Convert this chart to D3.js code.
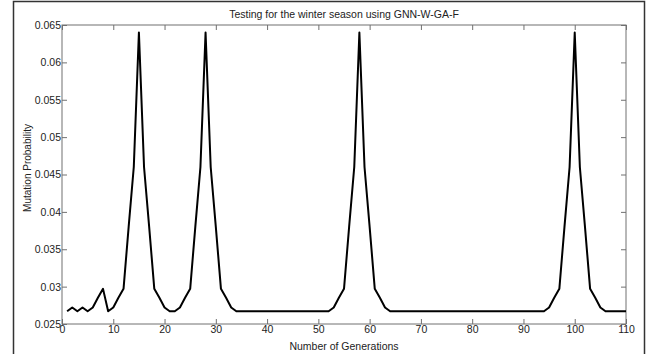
<!DOCTYPE html>
<html><head><meta charset="utf-8">
<script src="https://cdn.jsdelivr.net/npm/d3@7"></script>
<style>html,body{margin:0;padding:0;background:#fff;}svg{display:block;}</style>
</head><body>
<svg id="c" width="648" height="354"></svg>
<script>
const generations = d3.range(1, 111);
const mutation = [
  0.0267, 0.0272, 0.0267, 0.0272, 0.0267, 0.0272, 0.0285, 0.0297,          // 1-8
  0.0267, 0.0272, 0.0285, 0.0297, 0.038, 0.046, 0.064, 0.046, 0.038, 0.0297, 0.0285, 0.0272, 0.0267, // 9-21
  0.0267, 0.0272, 0.0285, 0.0297, 0.038, 0.046, 0.064, 0.046, 0.038, 0.0297, 0.0285, 0.0272, 0.0267, // 22-34
  0.0267, 0.0267, 0.0267, 0.0267, 0.0267, 0.0267, 0.0267, 0.0267, 0.0267, 0.0267, 0.0267, 0.0267, 0.0267, 0.0267, 0.0267, 0.0267, 0.0267, // 35-51
  0.0267, 0.0272, 0.0285, 0.0297, 0.038, 0.046, 0.064, 0.046, 0.038, 0.0297, 0.0285, 0.0272, 0.0267, // 52-64
  0.0267, 0.0267, 0.0267, 0.0267, 0.0267, 0.0267, 0.0267, 0.0267, 0.0267, 0.0267, 0.0267, 0.0267, 0.0267, 0.0267, 0.0267,
  0.0267, 0.0267, 0.0267, 0.0267, 0.0267, 0.0267, 0.0267, 0.0267, 0.0267, 0.0267, 0.0267, 0.0267, 0.0267, 0.0267, // 65-93
  0.0267, 0.0272, 0.0285, 0.0297, 0.038, 0.046, 0.064, 0.046, 0.038, 0.0297, 0.0285, 0.0272, 0.0267, // 94-106
  0.0267, 0.0267, 0.0267, 0.0267 // 107-110
];
const xTicks = [0, 10, 20, 30, 40, 50, 60, 70, 80, 90, 100, 110];
const yTicks = [0.025, 0.03, 0.035, 0.04, 0.045, 0.05, 0.055, 0.06, 0.065];
const yTickLabels = ["0.025", "0.03", "0.035", "0.04", "0.045", "0.05", "0.055", "0.06", "0.065"];
const titleText = "Testing for the winter season using GNN-W-GA-F";
const xLabelText = "Number of Generations";
const yLabelText = "Mutation Probability";

const svg = d3.select("#c");
const L = 62, R = 626, T = 25, B = 324;
const font = "Liberation Sans, Arial, Helvetica, sans-serif";
const x = d3.scaleLinear().domain([0, 110]).range([L, R]);
const y = d3.scaleLinear().domain([0.025, 0.065]).range([B, T]);

// figure border
svg.append("rect").attr("x", 13.5).attr("y", 1.5).attr("width", 631).attr("height", 360)
  .attr("fill", "none").attr("stroke", "#333").attr("stroke-width", 1.5);

const axisColor = "#707070";
function styleAxis(g) {
  g.select(".domain").remove();
  g.selectAll(".tick line").attr("stroke", axisColor);
  g.selectAll(".tick text").attr("fill", "#222").style("font-family", font).style("font-size", "10.5px");
}
svg.append("g").attr("transform", `translate(0,${B})`)
  .call(d3.axisBottom(x).tickValues(xTicks).tickSize(-5).tickPadding(3).tickFormat(d3.format("d")))
  .call(styleAxis)
  .call(g => g.selectAll(".tick text").attr("dy", "0.71em").attr("y", 2));
svg.append("g").attr("transform", `translate(0,${T})`)
  .call(d3.axisTop(x).tickValues(xTicks).tickSize(-5).tickFormat(""))
  .call(styleAxis);
svg.append("g").attr("transform", `translate(${L},0)`)
  .call(d3.axisLeft(y).tickValues(yTicks).tickSize(-5).tickPadding(1).tickFormat((d, i) => yTickLabels[i]))
  .call(styleAxis);
svg.append("g").attr("transform", `translate(${R},0)`)
  .call(d3.axisRight(y).tickValues(yTicks).tickSize(-5).tickFormat(""))
  .call(styleAxis);

svg.append("rect").attr("x", L).attr("y", T).attr("width", R - L).attr("height", B - T)
  .attr("fill", "none").attr("stroke", axisColor).attr("stroke-width", 1);

const line = d3.line().x((d, i) => x(generations[i])).y(d => y(d));
svg.append("path").datum(mutation).attr("d", line)
  .attr("fill", "none").attr("stroke", "#000").attr("stroke-width", 2).attr("stroke-linejoin", "round");

svg.append("text").attr("x", (L + R) / 2).attr("y", 18).attr("text-anchor", "middle")
  .style("font-family", font).style("font-size", "10.5px").attr("fill", "#222").text(titleText);
svg.append("text").attr("x", (L + R) / 2).attr("y", 350).attr("text-anchor", "middle")
  .style("font-family", font).style("font-size", "10.5px").attr("fill", "#222").text(xLabelText);
svg.append("text").attr("transform", `translate(31,168) rotate(-90)`).attr("text-anchor", "middle")
  .style("font-family", font).style("font-size", "10px").attr("fill", "#222").text(yLabelText);
</script>
</body></html>
